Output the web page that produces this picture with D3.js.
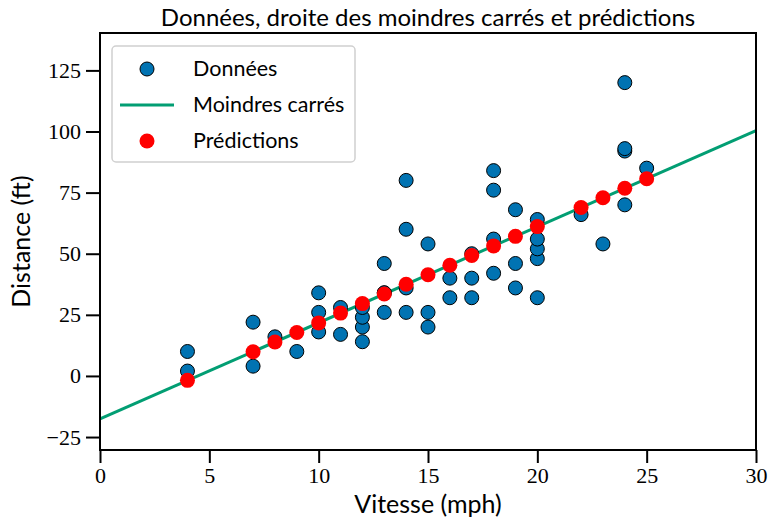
<!DOCTYPE html>
<html>
<head>
<meta charset="utf-8">
<script src="https://cdn.jsdelivr.net/npm/d3@7"></script>
<style>
  body { margin: 0; background: #fff; }
</style>
</head>
<body>
<div id="chart"></div>
<script>
// cars data: speed (mph) and stopping distance (ft)
const speeds = [4,4,7,7,8,9,10,10,10,11,11,12,12,12,12,13,13,13,13,14,14,14,14,15,15,15,16,16,17,17,17,18,18,18,18,19,19,19,20,20,20,20,20,22,23,24,24,24,24,25];
const dists  = [2,10,4,22,16,10,18,26,34,17,28,14,20,24,28,26,34,34,46,26,36,60,80,20,26,54,32,40,32,40,50,42,56,76,84,36,46,68,32,48,52,56,64,66,54,70,92,93,120,85];

// predicted distances
const predSpeeds = [4,7,8,9,10,11,12,13,14,15,16,17,18,19,20,22,23,24,25];
const predDists  = [-1.8,9.9,13.9,17.8,21.7,25.7,29.6,33.5,37.5,41.4,45.3,49.3,53.2,57.1,61.1,68.9,72.9,76.8,80.7];

// least-squares line endpoints
const lineX = [0, 30];
const lineY = [-17.6, 100.4];

const xTicks = [0,5,10,15,20,25,30];
const yTicks = [-25,0,25,50,75,100,125];

const width = 769, height = 521,
  margin = { top: 33, right: 13, bottom: 71, left: 100 };

const svg = d3.select("#chart").append("svg")
  .attr("width", width).attr("height", height);

const x = d3.scaleLinear().domain([0, 30]).range([margin.left, width - margin.right]);
const y = d3.scaleLinear().domain([-30.3, 140.3]).range([height - margin.bottom, margin.top]);

// regression line
svg.append("path")
  .datum(lineX.map((d, i) => [d, lineY[i]]))
  .attr("fill", "none")
  .attr("stroke", "#029e73")
  .attr("stroke-width", 3)
  .attr("d", d3.line().x(d => x(d[0])).y(d => y(d[1])));

// data points
svg.selectAll(".pt")
  .data(speeds.map((d, i) => [d, dists[i]]))
  .join("circle")
  .attr("class", "pt")
  .attr("cx", d => x(d[0]))
  .attr("cy", d => y(d[1]))
  .attr("r", 7)
  .attr("fill", "#0173b2")
  .attr("stroke", "#000")
  .attr("stroke-width", 1);

// predictions
svg.selectAll(".pred")
  .data(predSpeeds.map((d, i) => [d, predDists[i]]))
  .join("circle")
  .attr("class", "pred")
  .attr("cx", d => x(d[0]))
  .attr("cy", d => y(d[1]))
  .attr("r", 7.5)
  .attr("fill", "#ff0000");

// axes
const xAxis = svg.append("g")
  .attr("transform", `translate(0,${height - margin.bottom})`)
  .call(d3.axisBottom(x).tickValues(xTicks).tickSize(13).tickPadding(4).tickFormat(d3.format("d")));
const yAxis = svg.append("g")
  .attr("transform", `translate(${margin.left},0)`)
  .call(d3.axisLeft(y).tickValues(yTicks).tickSize(14).tickPadding(5).tickFormat(d => d < 0 ? "\u2212" + Math.abs(d) : d));

[xAxis, yAxis].forEach(g => {
  g.select(".domain").remove();
  g.attr("font-family", "'Liberation Serif', 'DejaVu Serif', serif").attr("font-size", 22);
  g.selectAll(".tick line").attr("stroke", "#000").attr("stroke-width", 2);
  g.selectAll(".tick text").attr("fill", "#000");
});

// frame
svg.append("rect")
  .attr("x", margin.left).attr("y", margin.top)
  .attr("width", width - margin.left - margin.right)
  .attr("height", height - margin.bottom - margin.top)
  .attr("fill", "none").attr("stroke", "#000").attr("stroke-width", 2);

const sans = "Lato, 'Open Sans', sans-serif";

// title and labels
svg.append("text")
  .attr("x", (margin.left + width - margin.right) / 2).attr("y", 26)
  .attr("text-anchor", "middle").attr("font-family", sans).attr("font-size", 24)
  .text("Données, droite des moindres carrés et prédictions");

svg.append("text")
  .attr("x", (margin.left + width - margin.right) / 2).attr("y", 513)
  .attr("text-anchor", "middle").attr("font-family", sans).attr("font-size", 25)
  .text("Vitesse (mph)");

svg.append("text")
  .attr("transform", `translate(30,${(margin.top + height - margin.bottom) / 2}) rotate(-90)`)
  .attr("text-anchor", "middle").attr("font-family", sans).attr("font-size", 25)
  .text("Distance (ft)");

// legend
const legend = svg.append("g");
legend.append("rect")
  .attr("x", 112).attr("y", 46).attr("width", 243).attr("height", 116)
  .attr("rx", 4).attr("fill", "#fff").attr("fill-opacity", 0.8)
  .attr("stroke", "#d0d0d0").attr("stroke-width", 1.5);

const legendItems = [
  { label: "Données", type: "data" },
  { label: "Moindres carrés", type: "line" },
  { label: "Prédictions", type: "pred" }
];

legendItems.forEach((d, i) => {
  const cy = 69 + i * 36;
  if (d.type === "data") {
    legend.append("circle").attr("cx", 147).attr("cy", cy).attr("r", 7)
      .attr("fill", "#0173b2").attr("stroke", "#000").attr("stroke-width", 1);
  } else if (d.type === "line") {
    legend.append("line").attr("x1", 120).attr("x2", 174).attr("y1", cy).attr("y2", cy)
      .attr("stroke", "#029e73").attr("stroke-width", 3);
  } else {
    legend.append("circle").attr("cx", 147).attr("cy", cy).attr("r", 7.5).attr("fill", "#ff0000");
  }
  legend.append("text").attr("x", 193).attr("y", cy + 7)
    .attr("font-family", sans).attr("font-size", 21.5).text(d.label);
});
</script>
</body>
</html>
